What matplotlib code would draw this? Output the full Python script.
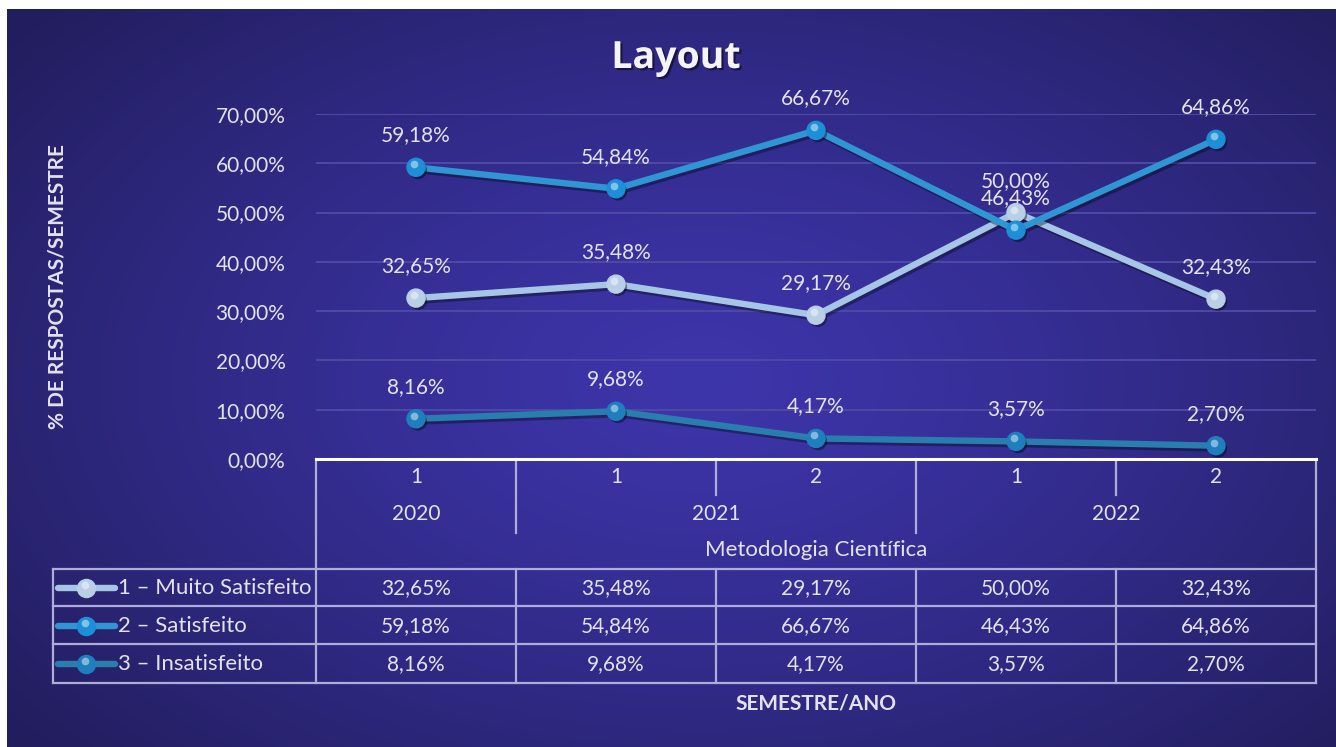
import numpy as np
import matplotlib
matplotlib.use("Agg")
import matplotlib.pyplot as plt
import matplotlib.patheffects as pe
from matplotlib.transforms import offset_copy

plt.rcParams['font.family'] = ['Lato', 'DejaVu Sans']

# ---------------- data ----------------
title = "Layout"
semesters = ["1", "1", "2", "1", "2"]
years = ["2020", "2021", "2022"]
year_spans = [(0, 0), (1, 2), (3, 4)]
course = "Metodologia Científica"
series_names = ["1 – Muito Satisfeito", "2 – Satisfeito", "3 – Insatisfeito"]
muito_satisfeito = [32.65, 35.48, 29.17, 50.00, 32.43]
satisfeito = [59.18, 54.84, 66.67, 46.43, 64.86]
insatisfeito = [8.16, 9.68, 4.17, 3.57, 2.70]
y_ticks = [0, 10, 20, 30, 40, 50, 60, 70]
y_label = "% DE RESPOSTAS/SEMESTRE"
x_label = "SEMESTRE/ANO"

series = [muito_satisfeito, satisfeito, insatisfeito]
line_colors = ["#a7c6e6", "#2f96d3", "#2a7eae"]
marker_colors = ["#b9cfe6", "#1d8fd6", "#1f7fbd"]
txt = "#e2e2ec"
grid_c = "#4d4aa6"
tab_c = "#aeacd8"
NUM_FS = 15
WORD_FS = 16

def fmt(v):
    return f"{v:.2f}".replace(".", ",") + "%"

W, H = 1336, 747
fig = plt.figure(figsize=(W / 100, H / 100), dpi=100, facecolor="white")

# ---------------- background ----------------
bg = fig.add_axes([0, 0, 1, 1], zorder=0)
bg.set_xlim(0, W); bg.set_ylim(H, 0); bg.axis("off")
yy, xx = np.mgrid[0:H, 0:W]
r = np.sqrt(((xx - 700) / 900.0) ** 2 + ((yy - 380) / 560.0) ** 2)
r = np.clip(r, 0, 1)
c0 = np.array([0x3d, 0x35, 0xaa]) / 255.0
c1 = np.array([0x22, 0x1d, 0x5c]) / 255.0
img = c0[None, None, :] * (1 - r[..., None] ** 1.3) + c1[None, None, :] * (r[..., None] ** 1.3)
bg.imshow(img[9:, 7:], extent=(7, W, H, 9), aspect="auto", interpolation="bilinear")

# ---------------- overlay (pixel coords) ----------------
ov = fig.add_axes([0, 0, 1, 1], zorder=1)
ov.set_xlim(0, W); ov.set_ylim(H, 0); ov.axis("off"); ov.patch.set_alpha(0)

# ---------------- data axes ----------------
x0, x1, yb, yt = 316, 1316, 459, 114
ax = fig.add_axes([x0 / W, (H - yb) / H, (x1 - x0) / W, (yb - yt) / H], zorder=2)
ax.patch.set_alpha(0)
ax.set_xlim(-0.5, len(semesters) - 0.5)
ax.set_ylim(0, 70)
for s in ax.spines.values():
    s.set_visible(False)
ax.set_xticks([])
ax.set_yticks(y_ticks)
ax.set_yticklabels([fmt(t) for t in y_ticks], color=txt, fontsize=NUM_FS)
ax.tick_params(axis="y", length=0, pad=22)
for t in y_ticks[1:]:
    ax.axhline(t, color=grid_c, lw=1.4, zorder=0)

xs = np.arange(len(semesters))
hl = offset_copy(ax.transData, fig=fig, x=-1.5, y=2.2, units="points")
for vals, lc, mc in zip(series, line_colors, marker_colors):
    ax.plot(xs, vals, color=lc, lw=4.6, solid_capstyle="butt", zorder=3,
            path_effects=[pe.SimpleLineShadow(offset=(1.5, -2), shadow_color="black", alpha=0.35),
                          pe.Normal()])
    ax.plot(xs, vals, ls="none", marker="o", ms=13, mfc=mc, mec=mc, zorder=4,
            path_effects=[pe.SimplePatchShadow(offset=(1.5, -2), shadow_rgbFace="black", alpha=0.4),
                          pe.Normal()])
    ax.plot(xs, vals, ls="none", marker="o", ms=5.5, mfc="white", mec="none", alpha=0.45,
            zorder=5, transform=hl)
    for x, v in zip(xs, vals):
        ax.annotate(fmt(v), (x, v), xytext=(0, 23), textcoords="offset points",
                    ha="center", va="center", color=txt, fontsize=NUM_FS, annotation_clip=False)

# ---------------- title & axis labels ----------------
ov.text(676, 58, title, ha="center", va="center", fontsize=27, fontweight="bold",
        family=["Open Sans", "DejaVu Sans"], color="#f4f4f8",
        path_effects=[pe.withSimplePatchShadow(offset=(1.5, -1.5), shadow_rgbFace="black", alpha=0.5)])
ov.text(58, 287, y_label, ha="center", va="center", rotation=90, fontsize=15,
        fontweight="bold", color=txt)
ov.text(816, 704, x_label, ha="center", va="center", fontsize=15, fontweight="bold", color=txt)

# ---------------- table ----------------
cw = (x1 - x0) / len(semesters)
cx = [x0 + cw * (i + 0.5) for i in range(len(semesters))]
r_sem, r_year, r_course, r_data = 477, 514, 550, [588, 626, 664]
h_lines = [569, 606, 644, 683]
legend_left = 53

ov.plot([x0, x1], [yb, yb], color="white", lw=2.2, zorder=3)
ov.plot([x0, x0], [yb, h_lines[-1]], color=tab_c, lw=1.6)
ov.plot([x1, x1], [yb, h_lines[-1]], color=tab_c, lw=1.6)
for i in range(1, len(semesters)):
    xv = x0 + cw * i
    year_boundary = any(i == a for a, b in year_spans)
    ov.plot([xv, xv], [yb, 533 if year_boundary else 495], color=tab_c, lw=1.6)
for hy in h_lines:
    ov.plot([legend_left, x1], [hy, hy], color=tab_c, lw=1.6)
ov.plot([legend_left, legend_left], [h_lines[0], h_lines[-1]], color=tab_c, lw=1.6)
for i in range(1, len(semesters)):
    xv = x0 + cw * i
    ov.plot([xv, xv], [h_lines[0], h_lines[-1]], color=tab_c, lw=1.6)

for i, s in enumerate(semesters):
    ov.text(cx[i], r_sem, s, ha="center", va="center", color=txt, fontsize=NUM_FS)
for yname, (a, b) in zip(years, year_spans):
    ov.text((cx[a] + cx[b]) / 2, r_year, yname, ha="center", va="center", color=txt, fontsize=NUM_FS)
ov.text((x0 + x1) / 2, r_course, course, ha="center", va="center", color=txt, fontsize=WORD_FS)

for name, vals, lc, mc, ry in zip(series_names, series, line_colors, marker_colors, r_data):
    ov.plot([58, 115], [ry, ry], color=lc, lw=4.6, solid_capstyle="round", zorder=3)
    ov.plot([86], [ry], marker="o", ms=13, color=mc, zorder=4)
    ov.plot([85], [ry - 3], marker="o", ms=5.5, color="white", alpha=0.45, mec="none", zorder=5)
    ov.text(118, ry, name, ha="left", va="center", color=txt, fontsize=WORD_FS)
    for i, v in enumerate(vals):
        ov.text(cx[i], ry, fmt(v), ha="center", va="center", color=txt, fontsize=NUM_FS)

fig.savefig("out.png", dpi=100, facecolor="white")
